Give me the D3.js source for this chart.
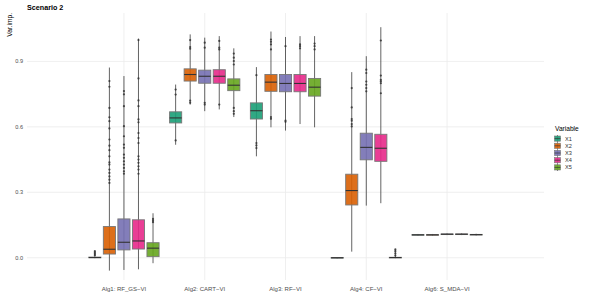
<!DOCTYPE html>
<html>
<head>
<meta charset="utf-8">
<script src="https://cdn.jsdelivr.net/npm/d3@7"></script>
<style>
body { margin: 0; background: #fff; }
text { font-family: "Liberation Sans", Arial, sans-serif; }
</style>
</head>
<body>
<div id="chart"></div>
<script>
let algs = ["Alg1: RF_GS\u2212VI", "Alg2: CART\u2212VI", "Alg3: RF\u2212VI", "Alg4: CF\u2212VI", "Alg6: S_MDA\u2212VI"];
let variables = ["X1", "X2", "X3", "X4", "X5"];
let colors = ["#1B9E77", "#D95F02", "#7570B3", "#E7298A", "#66A61E"];
let yTicks = [0.0, 0.3, 0.6, 0.9];

// per algorithm, per variable (X1..X5)
let lower = [
    [-0.002, -0.059, -0.056, -0.053, -0.025],
    [0.518, 0.702, 0.672, 0.680, 0.645],
    [0.465, 0.598, 0.583, 0.613, 0.598],
    [-0.003, 0.028, 0.239, 0.250, -0.002],
    [0.101, 0.101, 0.104, 0.104, 0.102]
];
let q1 = [
    [0.000, 0.017, 0.036, 0.040, 0.005],
    [0.618, 0.810, 0.800, 0.800, 0.766],
    [0.636, 0.763, 0.761, 0.761, 0.741],
    [-0.001, 0.242, 0.449, 0.442, 0.000],
    [0.104, 0.104, 0.107, 0.107, 0.105]
];
let median = [
    [0.001, 0.039, 0.071, 0.077, 0.044],
    [0.641, 0.840, 0.832, 0.832, 0.791],
    [0.674, 0.805, 0.799, 0.799, 0.782],
    [0.000, 0.308, 0.506, 0.502, 0.001],
    [0.105, 0.105, 0.108, 0.108, 0.106]
];
let q3 = [
    [0.003, 0.143, 0.178, 0.174, 0.069],
    [0.669, 0.866, 0.860, 0.862, 0.820],
    [0.710, 0.840, 0.840, 0.840, 0.822],
    [0.001, 0.383, 0.571, 0.566, 0.002],
    [0.106, 0.106, 0.109, 0.109, 0.107]
];
let upper = [
    [0.030, 0.872, 0.833, 1.005, 0.204],
    [0.794, 1.024, 1.009, 1.016, 0.960],
    [0.874, 1.037, 1.012, 1.016, 1.016],
    [0.003, 0.851, 0.924, 1.057, 0.039],
    [0.109, 0.109, 0.112, 0.112, 0.110]
];
let outliers = [
    [[0.012, 0.018, 0.024, 0.030],
     [0.810, 0.784, 0.687, 0.644, 0.626, 0.593, 0.542, 0.514, 0.493, 0.465, 0.437, 0.427, 0.404, 0.389, 0.373, 0.358, 0.343],
     [0.764, 0.749, 0.695, 0.603, 0.557, 0.519, 0.504, 0.473, 0.458, 0.442, 0.427, 0.412, 0.396, 0.385],
     [0.998, 0.822, 0.721, 0.695, 0.634, 0.621, 0.572, 0.549, 0.526, 0.465, 0.450, 0.435, 0.419, 0.404, 0.385],
     [0.178, 0.170, 0.163]],
    [[0.771, 0.748, 0.538],
     [0.998, 0.966, 0.958, 0.720, 0.710],
     [0.986, 0.963, 0.710, 0.702],
     [0.994, 0.963, 0.955, 0.702],
     [0.936, 0.917, 0.902, 0.886, 0.687, 0.672, 0.660]],
    [[0.837, 0.526, 0.515, 0.503],
     [1.000, 0.990, 0.978, 0.955, 0.645, 0.637],
     [0.970, 0.629, 0.623],
     [0.978, 0.970, 0.960],
     [0.982, 0.970, 0.955]],
    [[],
     [0.778, 0.689, 0.636, 0.628, 0.613, 0.602],
     [0.862, 0.847, 0.808, 0.793, 0.778, 0.763],
     [0.996, 0.835, 0.815, 0.808, 0.800, 0.754],
     [0.010, 0.020, 0.030, 0.038]],
    [[], [], [], [], []]
];

let W = 592, H = 296;
let svg = d3.select("div#chart").append("svg")
    .attr("width", W)
    .attr("height", H);

let panel = {left: 27, right: 544, top: 13, bottom: 280};

let x = d3.scalePoint().domain(algs).range([panel.left, panel.right]).padding(1.2);
let step = x.step();
let xv = d3.scalePoint().domain(variables).range([-0.36 * step, 0.36 * step]);
let boxW = 0.15 * step;
let y = d3.scaleLinear().domain([-0.102, 1.122]).range([panel.bottom, panel.top]);

// grid
svg.append("g").selectAll("line").data(yTicks).enter().append("line")
    .attr("x1", panel.left).attr("x2", panel.right)
    .attr("y1", d => y(d)).attr("y2", d => y(d))
    .attr("stroke", "#ebebeb").attr("stroke-width", 0.8);
svg.append("g").selectAll("line").data(algs).enter().append("line")
    .attr("x1", d => x(d)).attr("x2", d => x(d))
    .attr("y1", panel.top).attr("y2", panel.bottom)
    .attr("stroke", "#ebebeb").attr("stroke-width", 0.8);

// axes labels
svg.append("g").selectAll("text").data(yTicks).enter().append("text")
    .attr("x", panel.left - 4)
    .attr("y", d => y(d))
    .attr("dy", "0.35em")
    .attr("text-anchor", "end")
    .attr("font-size", 5.6)
    .attr("fill", "#4d4d4d")
    .text(d => d3.format(".1f")(d));
svg.append("g").selectAll("text").data(algs).enter().append("text")
    .attr("x", d => x(d))
    .attr("y", 291)
    .attr("text-anchor", "middle")
    .attr("font-size", 6)
    .attr("fill", "#4d4d4d")
    .text(d => d);

svg.append("text")
    .attr("x", panel.left).attr("y", 9.5)
    .attr("font-size", 7.2).attr("font-weight", "bold")
    .text("Scenario 2");
svg.append("text")
    .attr("transform", `translate(11.5, ${panel.top}) rotate(-90)`)
    .attr("text-anchor", "end")
    .attr("font-size", 6.6)
    .text("Var.imp.");

// boxes
let rows = [];
algs.forEach((a, i) => variables.forEach((v, j) => rows.push({
    alg: a, v: v, color: colors[j],
    lo: lower[i][j], q1: q1[i][j], med: median[i][j], q3: q3[i][j], hi: upper[i][j],
    out: outliers[i][j]
})));

let g = svg.append("g").selectAll("g").data(rows).enter().append("g")
    .attr("transform", d => `translate(${x(d.alg) + xv(d.v)}, 0)`);
g.append("line")
    .attr("y1", d => y(d.lo)).attr("y2", d => y(d.hi))
    .attr("stroke", "#333").attr("stroke-opacity", 0.85).attr("stroke-width", 0.9);
g.append("rect")
    .attr("x", -boxW / 2).attr("width", boxW)
    .attr("y", d => y(d.q3))
    .attr("height", d => Math.max(0.6, y(d.q1) - y(d.q3)))
    .attr("fill", d => d.color).attr("fill-opacity", 0.9)
    .attr("stroke", "#777").attr("stroke-width", 0.9);
g.append("line")
    .attr("x1", -boxW / 2).attr("x2", boxW / 2)
    .attr("y1", d => y(d.med)).attr("y2", d => y(d.med))
    .attr("stroke", "#333").attr("stroke-width", 1.1);
g.selectAll("circle").data(d => d.out).enter().append("circle")
    .attr("cy", d => y(d))
    .attr("r", 1.1)
    .attr("fill", "#333").attr("fill-opacity", 0.85);

// legend
let lg = svg.append("g").attr("transform", "translate(554, 0)");
lg.append("text")
    .attr("x", 1).attr("y", 130.5)
    .attr("font-size", 6.6)
    .text("Variable");
let key = lg.selectAll("g.key").data(variables).enter().append("g")
    .attr("class", "key")
    .attr("transform", (d, i) => `translate(0, ${135 + i * 7.2})`);
key.append("line")
    .attr("x1", 3.5).attr("x2", 3.5).attr("y1", 0).attr("y2", 7.2)
    .attr("stroke", "#333").attr("stroke-width", 0.6);
key.append("rect")
    .attr("x", 0.5).attr("y", 1).attr("width", 6).attr("height", 5.2)
    .attr("fill", (d, i) => colors[i]).attr("fill-opacity", 0.9)
    .attr("stroke", "#777").attr("stroke-width", 0.6);
key.append("line")
    .attr("x1", 0.5).attr("x2", 6.5).attr("y1", 3.6).attr("y2", 3.6)
    .attr("stroke", "#333").attr("stroke-width", 0.7);
key.append("text")
    .attr("x", 11).attr("y", 3.6).attr("dy", "0.35em")
    .attr("font-size", 5.6).attr("fill", "#333")
    .text(d => d);
</script>
</body>
</html>
